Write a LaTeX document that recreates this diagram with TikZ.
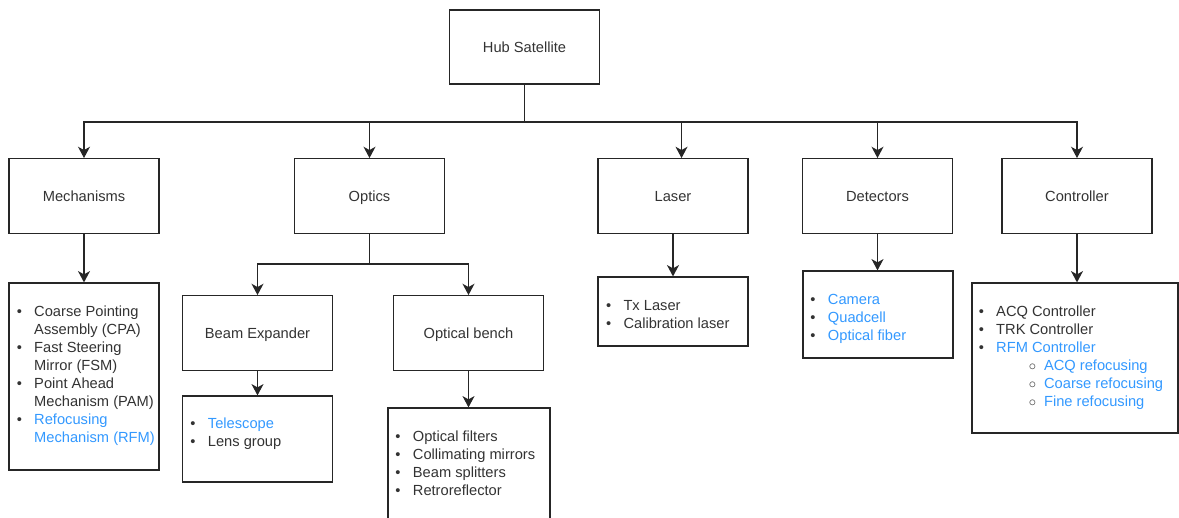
\documentclass[tikz,border=0pt]{standalone}
\usepackage{fontspec}
\setmainfont{Liberation Sans}
\usepackage{xcolor}
\usetikzlibrary{arrows.meta}

\definecolor{darktext}{RGB}{51,51,51}
\definecolor{linkblue}{RGB}{51,153,255}

\newcommand{\bul}{\makebox[13.1pt][l]{\textbullet}}
\newcommand{\cont}{\hspace*{13.1pt}}
\newcommand{\subbul}{\hspace*{37.5pt}\makebox[11.5pt][l]{$\circ$}}
\newcommand{\blue}[1]{\textcolor{linkblue}{#1}}

\begin{document}
\begin{tikzpicture}[x=0.75pt,y=-0.75pt,
  box/.style={draw=black!85,line width=0.9pt,fill=white,inner sep=0pt,
    font=\fontsize{11}{13.5}\selectfont,text=darktext,
    text height=9.5pt,text depth=0.8pt},
  level/.style={box,minimum width=112.5pt,minimum height=56pt},
  items/.style={anchor=west,align=left,inner sep=0pt,
    font=\fontsize{11}{13.5}\selectfont,text=darktext},
  link/.style={draw=black!85,line width=0.8pt},
  arr/.style={link,-{Stealth[length=8.5pt,width=9pt,inset=2.5pt]}}]
\clip (0,0) rectangle (1179,518);

\node[box,minimum width=112.5pt,minimum height=55.5pt] (hub) at (524.5,47) {Hub Satellite};

\node[level] (mech) at (84,196) {Mechanisms};
\node[level] (optics) at (369.5,196) {Optics};
\node[level] (laser) at (673,196) {Laser};
\node[level] (detect) at (877.5,196) {Detectors};
\node[level] (ctrl) at (1077,196) {Controller};

\node[level] (beamexp) at (257.5,333) {Beam Expander};
\node[level] (bench) at (468.5,333) {Optical bench};

% list boxes
\node[box,minimum width=112.5pt,minimum height=140.25pt] (mechlist) at (84,376.5) {};
\node[box,minimum width=112.5pt,minimum height=64.5pt] (telelist) at (257.5,439) {};
\node[box,minimum width=121.5pt,minimum height=99pt] (benchlist) at (469,474) {};
\node[box,minimum width=112.5pt,minimum height=51.75pt] (laserlist) at (673,311.5) {};
\node[box,minimum width=112.5pt,minimum height=65.25pt] (detlist) at (878,314.5) {};
\node[box,minimum width=154.5pt,minimum height=112.5pt] (ctrllist) at (1075,358) {};

\node[items] (mechtxt) at (16.5,375.4) {\bul Coarse Pointing\\ \cont Assembly (CPA)\\
  \bul Fast Steering\\ \cont Mirror (FSM)\\ \bul Point Ahead\\ \cont Mechanism (PAM)\\
  \bul\blue{Refocusing}\\ \cont\blue{Mechanism (RFM)}};
\node[items] (teletxt) at (190.2,433.3) {\bul\blue{Telescope}\\ \bul Lens group};
\node[items] (benchtxt) at (395.2,463.7) {\bul Optical filters\\ \bul Collimating mirrors\\
  \bul Beam splitters\\ \bul Retroreflector};
\node[items] (lasertxt) at (605.8,315) {\bul Tx Laser\\ \bul Calibration laser};
\node[items] (dettxt) at (810.2,318.7) {\bul\blue{Camera}\\ \bul\blue{Quadcell}\\ \bul\blue{Optical fiber}};
\node[items] (ctrltxt) at (978.5,357.7) {\bul ACQ Controller\\ \bul TRK Controller\\
  \bul\blue{RFM Controller}\\ \subbul\blue{ACQ refocusing}\\
  \subbul\blue{Coarse refocusing}\\ \subbul\blue{Fine refocusing}};

\coordinate (bus) at (524.5,122);
\draw[link] (hub.south) -- (bus);
\draw[arr] (bus) -| (mech.north);
\draw[arr] (bus) -| (optics.north);
\draw[arr] (bus) -| ([xshift=6.4pt]laser.north);
\draw[arr] (bus) -| (detect.north);
\draw[arr] (bus) -| (ctrl.north);

\coordinate (split) at (369.5,264);
\draw[link] (optics.south) -- (split);
\draw[arr] (split) -| (beamexp.north);
\draw[arr] (split) -| (bench.north);

\draw[arr] (mech) -- (mechlist);
\draw[arr] (beamexp) -- (telelist);
\draw[arr] (bench.south) -- (bench.south |- benchlist.north);
\draw[arr] (laser) -- (laserlist);
\draw[arr] (detect.south) -- (detect.south |- detlist.north);
\draw[arr] (ctrl.south) -- (ctrl.south |- ctrllist.north);
%\draw[link] (bus) -- ++(0,10);

\end{tikzpicture}
\end{document}
